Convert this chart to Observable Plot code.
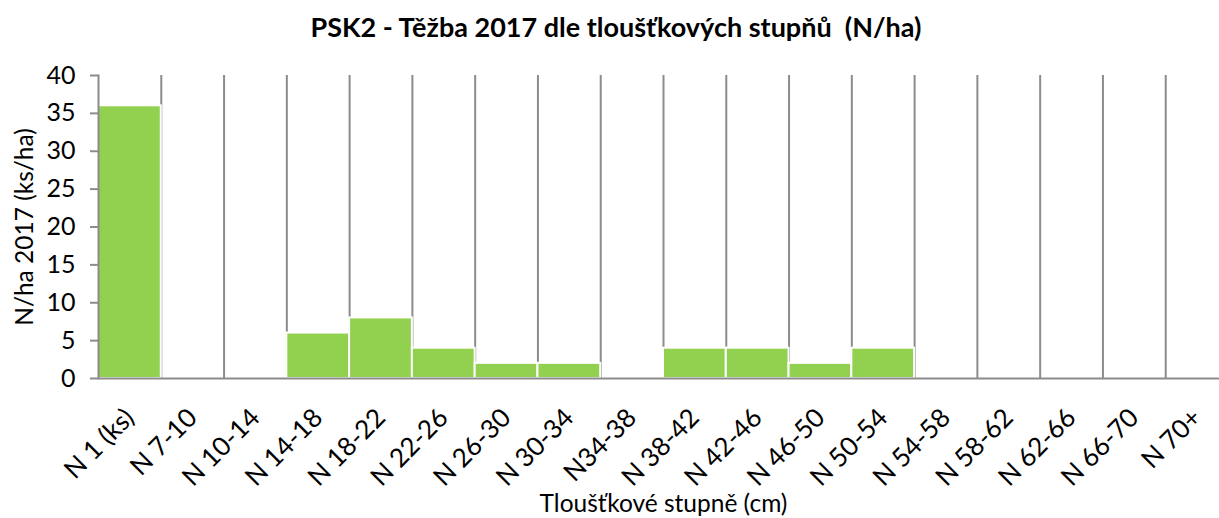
<!DOCTYPE html>
<html><head><meta charset="utf-8">
<script src="https://cdn.jsdelivr.net/npm/d3@7"></script>
<script src="https://cdn.jsdelivr.net/npm/@observablehq/plot@0.6"></script>
<style>
body{margin:0;background:#fff;font-family:Lato,sans-serif;overflow:hidden;}
#title{height:50px;position:relative;}
#title span{position:absolute;left:616px;top:13px;transform:translateX(-50%);font-weight:bold;font-size:27px;line-height:27px;white-space:pre;color:#000;}
</style></head><body>
<div id="title"><span>PSK2 - Těžba 2017 dle tloušťkových stupňů  (N/ha)</span></div>
<div id="chart"></div>
<script>
const categories = ["N 1 (ks)","N 7-10","N 10-14","N 14-18","N 18-22","N 22-26","N 26-30","N 30-34","N34-38","N 38-42","N 42-46","N 46-50","N 50-54","N 54-58","N 58-62","N 62-66","N 66-70","N 70+"];
const values = [36,0,0,6,8,4,2,2,0,4,4,2,4,0,0,0,0,0];
const yTicks = [0,5,10,15,20,25,30,35,40];
const yLabel = "N/ha 2017 (ks/ha)";
const xLabel = "Tloušťkové stupně (cm)";

const data = categories.map((c,i)=>({cat:c, value:values[i]}));
const W = 1219, ML = 98, MR = -9;
const step = (W - ML - MR) / categories.length;
const grid = "#8c8c8c";

const chart = Plot.plot({
  width: W, height: 468,
  marginLeft: ML, marginRight: MR, marginTop: 25, marginBottom: 140,
  style: {fontFamily: "Lato, sans-serif", fontSize: "25px", color: "#000", background: "#fff", overflow: "visible"},
  x: {domain: categories, padding: 0, round: false, axis: null},
  y: {domain: [0, 40], axis: null},
  marks: [
    Plot.ruleX(categories.slice(0, -1), {x: d => d, dx: step / 2, y1: 0, y2: 40, stroke: grid, strokeWidth: 2}),
    Plot.barY(data, {x: "cat", y: "value", fill: "#92D050", stroke: "#fff", strokeWidth: 2}),
    Plot.frame({anchor: "left", stroke: grid, strokeWidth: 2}),
    Plot.ruleY([0], {stroke: grid, strokeWidth: 2}),
    Plot.axisY({ticks: yTicks, tickSize: 8, tickPadding: 15, stroke: grid, strokeWidth: 2, fill: "#000", label: null, fontSize: 25}),
    Plot.axisX({tickRotate: -45, tickSize: 0, tickPadding: 35, textAnchor: "end", lineAnchor: "middle", fill: "#000", label: null, fontSize: 26}),
    Plot.text([yLabel], {frameAnchor: "left", dx: -73, rotate: -90, textAnchor: "middle", lineAnchor: "middle", fontSize: 24.5, fill: "#000"}),
    Plot.text([xLabel], {frameAnchor: "bottom", dy: 133, lineAnchor: "bottom", fontSize: 24.5, fill: "#000"})
  ]
});
document.getElementById("chart").appendChild(chart);
</script>
</body></html>
